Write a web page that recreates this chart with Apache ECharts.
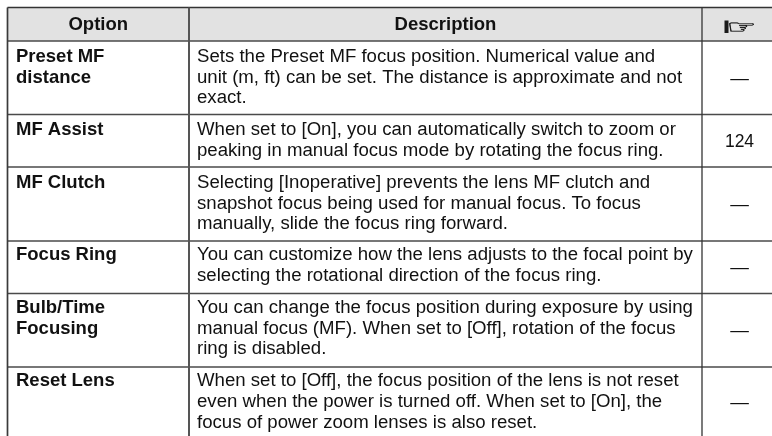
<!DOCTYPE html>
<html><head><meta charset="utf-8">
<script src="https://cdn.jsdelivr.net/npm/echarts@6/dist/echarts.min.js"></script>
<style>html,body{margin:0;background:#fff}#c{width:772px;height:436px}</style></head>
<body><div id="c"></div>
<script>
const headers = ["Option", "Description", "☞"];
const options = [
  ["Preset MF", "distance"],
  ["MF Assist"],
  ["MF Clutch"],
  ["Focus Ring"],
  ["Bulb/Time", "Focusing"],
  ["Reset Lens"]
];
const descriptions = [
  ["Sets the Preset MF focus position. Numerical value and", "unit (m, ft) can be set. The distance is approximate and not", "exact."],
  ["When set to [On], you can automatically switch to zoom or", "peaking in manual focus mode by rotating the focus ring."],
  ["Selecting [Inoperative] prevents the lens MF clutch and", "snapshot focus being used for manual focus. To focus", "manually, slide the focus ring forward."],
  ["You can customize how the lens adjusts to the focal point by", "selecting the rotational direction of the focus ring."],
  ["You can change the focus position during exposure by using", "manual focus (MF). When set to [Off], rotation of the focus", "ring is disabled."],
  ["When set to [Off], the focus position of the lens is not reset", "even when the power is turned off. When set to [On], the", "focus of power zoom lenses is also reset."]
];
const refs = ["—", "124", "—", "—", "—", "—"];

// layout
const colX = [7.5, 189, 702, 772];
const rowY = [7.5, 41, 114.5, 167, 241, 293.5, 367, 436];
const firstLineY = [56.9, 130.3, 182.9, 255.3, 307.9, 381.3];
const LH = 20.7, FS = 18.62;
const FONT = '"Liberation Sans", Arial, sans-serif';
const TEXT = '#111';
const vStyle = [[1.7,'#3a3a3a'],[2,'#555'],[1.3,'#333']];

const chart = echarts.init(document.getElementById('c'), null, {renderer:'canvas'});
const cellData = [];
headers.forEach((h,c)=>cellData.push([c,0]));
options.forEach((o,r)=>{[0,1,2].forEach(c=>cellData.push([c,r+1]));});

function cellLines(c,r){
  if(r===0) return [headers[c]];
  if(c===0) return options[r-1];
  if(c===1) return descriptions[r-1];
  return [refs[r-1]];
}
chart.setOption({
  animation:false,
  grid:{left:0,right:0,top:0,bottom:0},
  xAxis:{type:'value',min:0,max:772,show:false},
  yAxis:{type:'value',min:0,max:436,inverse:true,show:false},
  series:[{
    type:'custom',coordinateSystem:'cartesian2d',silent:true,clip:true,
    data:cellData,
    renderItem(params,api){
      const c=api.value(0), r=api.value(1);
      const tl=api.coord([colX[c],rowY[r]]), br=api.coord([colX[c+1],rowY[r+1]]);
      const kids=[];
      kids.push({type:'rect',shape:{x:tl[0],y:tl[1],width:br[0]-tl[0],height:br[1]-tl[1]},
        style:{fill:r===0?'#e2e2e2':'#fff',stroke:null}});
      const lines=cellLines(c,r);
      if(r===0){
        if(c===2){
          kids.push({type:'rect',shape:{x:724.5,y:20.5,width:4,height:12.5},style:{fill:'#1a1a1a'}});
          kids.push({type:'text',x:741.5,y:28.5,scaleX:1.4,scaleY:0.75,style:{text:lines[0],x:0,y:0,align:'center',verticalAlign:'middle',
            font:'normal 24px "DejaVu Sans"',fill:'#111',stroke:'#111',lineWidth:0.4}});
        } else {
          kids.push({type:'text',style:{text:lines[0],x:(tl[0]+br[0])/2,y:(tl[1]+br[1])/2+1,align:'center',verticalAlign:'middle',
            font:'bold 18.5px '+FONT,fill:TEXT}});
        }
      } else if(c===2){
        kids.push({type:'text',style:{text:lines[0],x:(tl[0]+br[0])/2+2.5,y:(tl[1]+br[1])/2+1,align:'center',verticalAlign:'middle',
          font:(lines[0]==='—'?FS:17.5)+'px '+FONT,fill:TEXT}});
      } else {
        lines.forEach((t,i)=>{
          kids.push({type:'text',style:{text:t,x:c===0?16:197,y:firstLineY[r-1]+i*LH,align:'left',verticalAlign:'middle',
            font:(c===0?'bold 18.5':FS)+'px '+FONT,fill:TEXT}});
        });
      }
      return {type:'group',children:kids};
    }
  },{
    type:'custom',coordinateSystem:'cartesian2d',silent:true,clip:true,z:5,
    data:rowY.slice(0,-1).map((_,i)=>[i]),
    renderItem(params,api){
      const i=api.value(0);
      const a=api.coord([colX[0],rowY[i]]), b=api.coord([772,rowY[i]]);
      return {type:'line',shape:{x1:a[0],y1:a[1],x2:b[0],y2:b[1]},style:{stroke:i===0?'#333':'#4a4a4a',lineWidth:1.5}};
    }
  },{
    type:'custom',coordinateSystem:'cartesian2d',silent:true,clip:true,z:5,
    data:colX.slice(0,-1).map((_,i)=>[i]),
    renderItem(params,api){
      const i=api.value(0);
      const a=api.coord([colX[i],rowY[0]]), b=api.coord([colX[i],436]);
      return {type:'line',shape:{x1:a[0],y1:a[1],x2:b[0],y2:b[1]},style:{stroke:vStyle[i][1],lineWidth:vStyle[i][0]}};
    }
  }]
});
</script></body></html>
